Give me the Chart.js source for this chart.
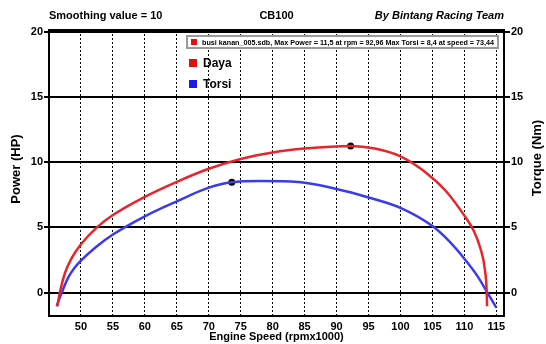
<!DOCTYPE html>
<html>
<head>
<meta charset="utf-8">
<script src="https://cdn.jsdelivr.net/npm/chart.js@4"></script>
<style>
  body { margin: 0; background: #fff; }
  #wrap { width: 546px; height: 344px; }
</style>
</head>
<body>
<div id="wrap"><canvas id="dyno" width="546" height="344"></canvas></div>
<script>
// data
const xTicks = [50, 55, 60, 65, 70, 75, 80, 85, 90, 95, 100, 105, 110, 115];
const yTicks = [0, 5, 10, 15, 20];

const dayaRpm = [46.3, 46.7, 47.5, 48.5, 50, 52.5, 55, 60, 65, 70, 75, 80, 85, 92.2, 96, 100, 104, 107, 110, 111.5, 112.5, 113.2, 113.5, 113.55];
const dayaHp  = [-1.05, 0, 1.5, 2.6, 3.7, 5.0, 5.95, 7.35, 8.5, 9.5, 10.25, 10.75, 11.05, 11.25, 11.05, 10.45, 9.2, 7.85, 5.9, 4.7, 3.4, 1.8, 0, -1.05];

const torsiRpm = [46.2, 47.0, 48, 49, 50, 52.5, 55, 60, 65, 70, 73.6, 78, 84, 90, 95, 100, 105, 107.5, 110, 112, 113.6, 115];
const torsiNm  = [-1.05, 0, 1.15, 1.9, 2.45, 3.55, 4.45, 5.85, 7.0, 8.05, 8.47, 8.56, 8.48, 7.95, 7.3, 6.5, 5.1, 4.0, 2.6, 1.3, 0, -1.15];

const peakRpm = [92.2, 73.6];
const peakVal = [11.25, 8.47];

const headerLeft = "Smoothing value = 10";
const headerMid = "CB100";
const headerRight = "By Bintang Racing Team";
const infoText = "busi kanan_005.sdb, Max Power = 11,5 at rpm = 92,96 Max Torsi = 8,4 at speed = 73,44";

const FONT = "'Liberation Sans', Arial, sans-serif";

function pts(xs, ys) {
  return xs.map((x, i) => ({ x: x, y: ys[i] }));
}

const decor = {
  id: "decor",
  afterDraw(chart) {
    const c = chart.ctx, a = chart.chartArea;
    c.save();
    // frame
    c.strokeStyle = "#000";
    c.lineWidth = 2;
    c.strokeRect(a.left, a.top, a.right - a.left, a.bottom - a.top);

    // header
    c.fillStyle = "#000";
    c.textBaseline = "middle";
    c.font = "bold 11px " + FONT;
    c.textAlign = "left";
    c.fillText(headerLeft, a.left, 16);
    c.textAlign = "center";
    c.fillText(headerMid, (a.left + a.right) / 2, 16);
    c.textAlign = "right";
    c.font = "italic bold 11px " + FONT;
    c.fillText(headerRight, a.right, 16);

    // axis titles
    c.font = "bold 13px " + FONT;
    c.textAlign = "center";
    c.save();
    c.translate(16, 169);
    c.rotate(-Math.PI / 2);
    c.fillText("Power (HP)", 0, 0);
    c.restore();
    c.save();
    c.translate(537, 158);
    c.rotate(-Math.PI / 2);
    c.fillText("Torque (Nm)", 0, 0);
    c.restore();
    c.font = "bold 11px " + FONT;
    c.fillText("Engine Speed (rpmx1000)", (a.left + a.right) / 2, 337);

    // info box
    c.fillStyle = "#fff";
    c.fillRect(187, 36, 311, 12);
    c.strokeStyle = "#9a9a9a";
    c.lineWidth = 2;
    c.strokeRect(187, 36, 311, 12);
    c.fillStyle = "#e01010";
    c.fillRect(191, 39, 6, 6);
    c.fillStyle = "#000";
    c.font = "bold 7.5px " + FONT;
    c.textAlign = "left";
    c.fillText(infoText, 202, 42.5, 292);

    // series legend
    c.font = "bold 12px " + FONT;
    c.fillStyle = "#e01010";
    c.fillRect(189, 59, 8, 8);
    c.fillStyle = "#1a1aee";
    c.fillRect(189, 80, 8, 8);
    c.fillStyle = "#000";
    c.fillText("Daya", 203, 63.5);
    c.fillText("Torsi", 203, 84.5);
    c.restore();
  }
};

const yCommon = {
  type: "linear",
  min: -1.8,
  max: 20.15,
  afterBuildTicks: (s) => { s.ticks = yTicks.map(v => ({ value: v })); },
  border: { display: false },
  ticks: { color: "#000", font: { family: FONT, size: 11, weight: "bold" }, padding: 1 },
};

new Chart(document.getElementById("dyno"), {
  type: "scatter",
  data: {
    datasets: [
      {
        label: "Daya",
        data: pts(dayaRpm, dayaHp),
        showLine: true,
        borderColor: "#e8252a",
        borderWidth: 2.5,
        pointRadius: 0,
        cubicInterpolationMode: "monotone",
        yAxisID: "y",
      },
      {
        label: "Torsi",
        data: pts(torsiRpm, torsiNm),
        showLine: true,
        borderColor: "#3a3af0",
        borderWidth: 2.5,
        pointRadius: 0,
        cubicInterpolationMode: "monotone",
        yAxisID: "y",
      },
      {
        label: "peak",
        data: pts(peakRpm, peakVal),
        showLine: false,
        pointRadius: 3.5,
        pointBackgroundColor: "#000",
        pointBorderWidth: 0,
        yAxisID: "y",
      },
    ],
  },
  options: {
    responsive: false,
    animation: false,
    devicePixelRatio: 1,
    layout: { padding: { top: 30, left: 0, right: 0, bottom: 0 } },
    plugins: { legend: { display: false }, tooltip: { enabled: false } },
    scales: {
      x: {
        type: "linear",
        min: 45,
        max: 116.2,
        afterBuildTicks: (s) => { s.ticks = xTicks.map(v => ({ value: v })); },
        afterFit: (s) => { s.height = 28; },
        border: { display: false, dash: [2, 2] },
        grid: { color: "#000", lineWidth: 1, drawTicks: false },
        ticks: { color: "#000", font: { family: FONT, size: 11, weight: "bold" }, padding: 4, maxRotation: 0 },
      },
      y: Object.assign({}, yCommon, {
        position: "left",
        afterFit: (s) => { s.width = 49; },
        grid: { color: "#000", lineWidth: 2, tickLength: 5 },
      }),
      y2: Object.assign({}, yCommon, {
        position: "right",
        afterFit: (s) => { s.width = 42; },
        grid: { color: "#000", lineWidth: 2, tickLength: 6, drawOnChartArea: false },
      }),
    },
  },
  plugins: [decor],
});
</script>
</body>
</html>
